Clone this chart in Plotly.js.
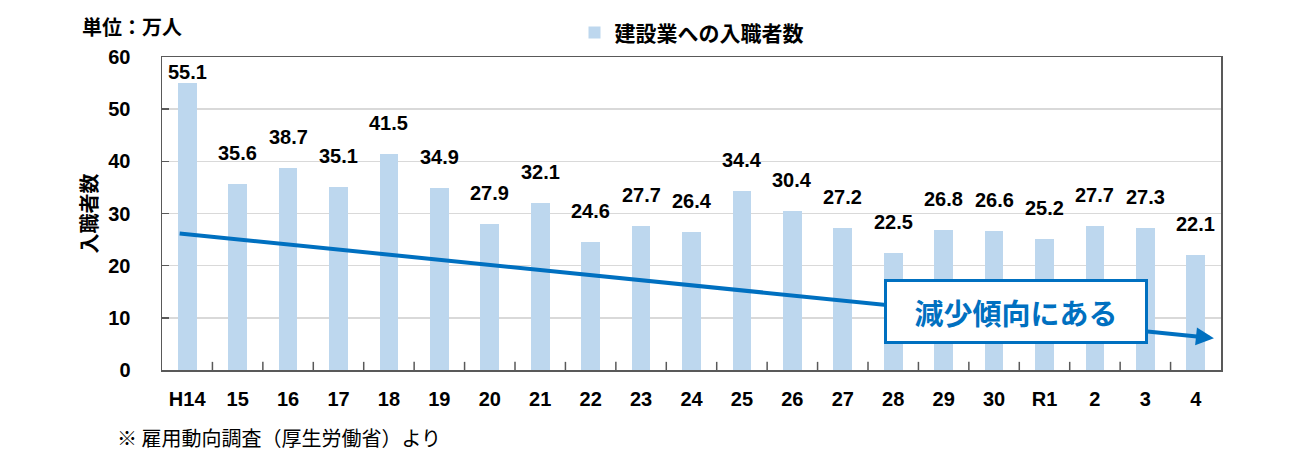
<!DOCTYPE html>
<html>
<head>
<meta charset="utf-8">
<script src="https://cdn.plot.ly/plotly-3.0.1.min.js"></script>
<style>
html,body{margin:0;padding:0;background:#fff;}
#chart{width:1298px;height:462px;}
</style>
</head>
<body>
<div id="chart"></div>
<script>
const categories = ["H14","15","16","17","18","19","20","21","22","23","24","25","26","27","28","29","30","R1","2","3","4"];
const entrants = [55.1,35.6,38.7,35.1,41.5,34.9,27.9,32.1,24.6,27.7,26.4,34.4,30.4,27.2,22.5,26.8,26.6,25.2,27.7,27.3,22.1];
const seriesName = "建設業への入職者数";
const trendText = "減少傾向にある";
const trendStartValue = 26.2;
const trendEndValue = 6.1;

const JP = "'Noto Sans CJK JP', 'Noto Sans', sans-serif";
const NUM = "'Liberation Sans', 'Noto Sans CJK JP', sans-serif";
const idx = categories.map((_, i) => i);

const trace = {
  type: 'bar',
  x: idx,
  y: entrants,
  name: seriesName,
  marker: {color: '#BDD7EE'},
  width: 0.37,
  hoverinfo: 'none'
};

const annotations = entrants.map((v, i) => ({
  x: i, y: v, xref: 'x', yref: 'y',
  text: '<b>' + v.toFixed(1) + '</b>',
  showarrow: false,
  yanchor: 'bottom',
  yshift: v > 50 ? -2 : 18,
  font: {family: NUM, size: 20, color: '#000'}
}));

annotations.push({
  x: 20.36, y: trendEndValue, xref: 'x', yref: 'y',
  ax: -0.18, ay: trendStartValue, axref: 'x', ayref: 'y',
  showarrow: true, arrowhead: 2, arrowsize: 0.9, arrowwidth: 4,
  arrowcolor: '#0070C0', text: '', standoff: 0, startstandoff: 0
});
annotations.push({
  x: 0.806, y: 0.188, xref: 'paper', yref: 'paper',
  text: '<b>' + trendText + '</b>',
  showarrow: false,
  xanchor: 'center', yanchor: 'middle',
  font: {family: JP, size: 29, color: '#0070C0'},
  bgcolor: '#ffffff', bordercolor: '#0070C0', borderwidth: 3,
  borderpad: 10, width: 238, height: 39
});
annotations.push({
  x: -0.0774, y: 1.096, xref: 'paper', yref: 'paper',
  xanchor: 'left', yanchor: 'middle',
  text: '<b>単位：万人</b>', showarrow: false,
  font: {family: JP, size: 20, color: '#000'}
});
annotations.push({
  x: -0.044, y: -0.217, xref: 'paper', yref: 'paper',
  xanchor: 'left', yanchor: 'middle',
  text: '※ 雇用動向調査（厚生労働省）より', showarrow: false,
  font: {family: JP, size: 20, color: '#000'}
});

const layout = {
  width: 1298, height: 462,
  margin: {l: 162, r: 77, t: 57, b: 92, autoexpand: false},
  paper_bgcolor: '#fff', plot_bgcolor: '#fff',
  showlegend: true,
  legend: {
    orientation: 'h', x: 0.5, xanchor: 'center', y: 1.077, yanchor: 'middle',
    font: {family: JP, size: 21, color: '#000', weight: 'bold'},
    itemwidth: 30
  },
  xaxis: {
    type: 'linear',
    range: [-0.5, 20.5],
    tickmode: 'array',
    tickvals: idx,
    ticktext: categories,
    showgrid: false,
    showline: true, linecolor: '#595959', linewidth: 1.5, mirror: true,
    ticks: '',
    tickfont: {family: NUM, size: 20, color: '#000', weight: 'bold'},
    ticklabelstandoff: 10,
    zeroline: false,
    fixedrange: true
  },
  yaxis: {
    range: [0, 60],
    dtick: 10,
    showgrid: true, gridcolor: '#D9D9D9', gridwidth: 1.5,
    showline: true, linecolor: '#595959', linewidth: 1.5, mirror: true,
    ticks: 'inside', ticklen: 7, tickcolor: '#595959', tickwidth: 1.5,
    tickfont: {family: NUM, size: 20, color: '#000', weight: 'bold'},
    ticklabelstandoff: 26,
    zeroline: false,
    title: {text: '<b>入職者数</b>', font: {family: JP, size: 20, color: '#000'}, standoff: 5},
    fixedrange: true
  },
  shapes: idx.slice(1).map(i => ({
    type: 'line', xref: 'x', yref: 'paper',
    x0: i - 0.5, x1: i - 0.5, y0: 0, y1: 0.026,
    line: {color: '#595959', width: 1.5}
  })),
  annotations: annotations,
  bargap: 0
};

Plotly.newPlot('chart', [trace], layout, {displayModeBar: false, staticPlot: true});
</script>
</body>
</html>
